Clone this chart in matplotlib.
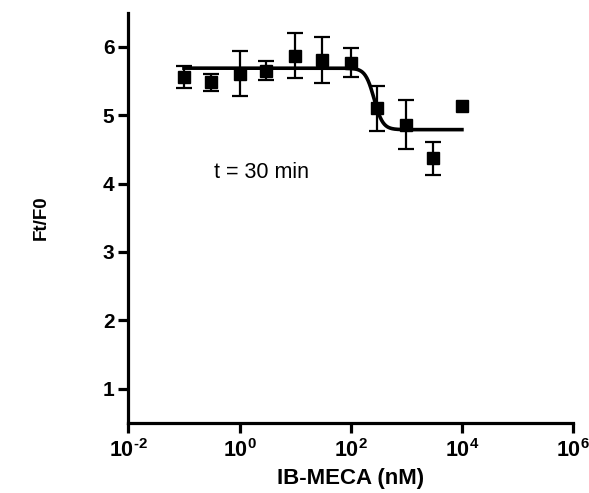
import numpy as np
import matplotlib
matplotlib.use("Agg")
import matplotlib.pyplot as plt

plt.rcParams['font.family'] = ['Liberation Sans', 'DejaVu Sans']
plt.rcParams['mathtext.fontset'] = 'custom'
plt.rcParams['mathtext.rm'] = 'Liberation Sans:bold'
plt.rcParams['mathtext.bf'] = 'Liberation Sans:bold'
plt.rcParams['mathtext.it'] = 'Liberation Sans:bold'

# data
conc_nM = [0.1, 0.3, 1, 3, 10, 30, 100, 300, 1000, 3000, 10000]
ft_f0 = [5.56, 5.48, 5.61, 5.65, 5.87, 5.81, 5.77, 5.10, 4.86, 4.37, 5.13]
sem = [0.16, 0.12, 0.33, 0.14, 0.33, 0.34, 0.21, 0.33, 0.36, 0.24, 0.0]

# fitted sigmoid parameters
top, bottom, log_ec50, hill = 5.69, 4.79, 2.42, 5.5

x_ticks = [1e-2, 1e0, 1e2, 1e4, 1e6]
x_tick_labels = [r'$10^{\text{-}2}$', r'$10^{0}$', r'$10^{2}$', r'$10^{4}$', r'$10^{6}$']
y_ticks = [1, 2, 3, 4, 5, 6]

fig = plt.figure(figsize=(5.89, 4.93), dpi=100)
ax = fig.add_axes([0.218, 0.1426, 0.755, 0.8314])

xs = np.logspace(np.log10(conc_nM[0]), np.log10(conc_nM[-1]), 600)
ys = bottom + (top - bottom) / (1 + 10 ** ((np.log10(xs) - log_ec50) * hill))
ax.plot(xs, ys, color='black', lw=2.6, zorder=2)

has_err = [s > 0 for s in sem]
ax.errorbar([c for c, h in zip(conc_nM, has_err) if h],
            [v for v, h in zip(ft_f0, has_err) if h],
            yerr=[s for s, h in zip(sem, has_err) if h], fmt='none', ecolor='black',
            elinewidth=1.6, capsize=5.5, capthick=1.6, zorder=3)
ax.plot(conc_nM, ft_f0, 's', color='black', ms=8.5, zorder=4)

ax.set_xscale('log')
ax.set_xlim(1e-2, 1e6)
ax.set_ylim(0.5, 6.5)
ax.set_xticks(x_ticks)
ax.set_xticklabels(x_tick_labels)
ax.xaxis.set_minor_locator(matplotlib.ticker.NullLocator())
ax.set_yticks(y_ticks)
ax.set_yticklabels([str(v) for v in y_ticks], fontweight='bold')

for s in ['top', 'right']:
    ax.spines[s].set_visible(False)
for s in ['left', 'bottom']:
    ax.spines[s].set_linewidth(2.3)
ax.tick_params(axis='both', width=2.3, length=7, labelsize=15, pad=3)
ax.tick_params(axis='x', pad=5, labelsize=15.5)

ax.set_xlabel('IB-MECA (nM)', fontsize=16, fontweight='bold', labelpad=4)
ax.set_ylabel('Ft/F0', fontsize=13.5, fontweight='bold', labelpad=38)

ax.text(10 ** 0.4, 4.16, 't = 30 min', fontsize=15.5, ha='center', va='center')

fig.savefig('out.png', dpi=100)
